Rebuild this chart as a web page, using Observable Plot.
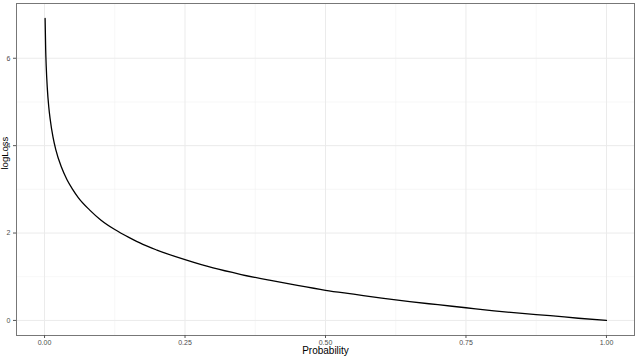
<!DOCTYPE html>
<html>
<head>
<meta charset="utf-8">
<script src="https://cdn.jsdelivr.net/npm/d3@7"></script>
<script src="https://cdn.jsdelivr.net/npm/@observablehq/plot@0.6"></script>
<style>
html, body { margin: 0; padding: 0; background: #fff; }
</style>
</head>
<body>
<div id="chart"></div>
<script>
// Values
const probability = [0.001, 0.002, 0.003, 0.005, 0.0075, 0.01, 0.015, 0.02, 0.03, 0.04, 0.05, 0.06, 0.08, 0.1, 0.125, 0.15, 0.175, 0.2, 0.25, 0.3, 0.35, 0.4, 0.45, 0.5, 0.55, 0.6, 0.65, 0.7, 0.75, 0.8, 0.85, 0.9, 0.95, 1.0];
const logLoss = [6.91, 6.21, 5.81, 5.30, 4.89, 4.61, 4.20, 3.91, 3.51, 3.22, 3.00, 2.81, 2.53, 2.30, 2.08, 1.90, 1.74, 1.61, 1.39, 1.20, 1.05, 0.92, 0.80, 0.69, 0.60, 0.51, 0.43, 0.36, 0.29, 0.22, 0.16, 0.11, 0.05, 0.00];
const xTicks = [0, 0.25, 0.5, 0.75, 1];
const xMinor = [0.125, 0.375, 0.625, 0.875];
const yTicks = [0, 2, 4, 6];
const yMinor = [1, 3, 5];
const xTitle = "Probability";
const yTitle = "logLoss";

const data = probability.map((p, i) => ({p, loss: logLoss[i]}));

const chart = Plot.plot({
  width: 638,
  height: 357,
  marginLeft: 16,
  marginRight: 4,
  marginTop: 3,
  marginBottom: 22,
  style: {fontFamily: "'Liberation Sans', Arial, sans-serif", background: "#fff"},
  x: {domain: [-0.0499, 1.0499]},
  y: {domain: [-0.345, 7.253]},
  marks: [
    Plot.gridX(xMinor, {stroke: "#f2f2f2", strokeOpacity: 1, strokeWidth: 0.6}),
    Plot.gridY(yMinor, {stroke: "#f2f2f2", strokeOpacity: 1, strokeWidth: 0.6}),
    Plot.gridX(xTicks, {stroke: "#ebebeb", strokeOpacity: 1, strokeWidth: 1}),
    Plot.gridY(yTicks, {stroke: "#ebebeb", strokeOpacity: 1, strokeWidth: 1}),
    Plot.line(data, {x: "p", y: "loss", stroke: "#000", strokeWidth: 1.3, curve: "monotone-x"}),
    Plot.frame({stroke: "#777", strokeWidth: 1}),
    Plot.axisX(xTicks, {tickFormat: d3.format(".2f"), tickSize: 3, tickPadding: 1.5, fontSize: 7, color: "#4d4d4d", stroke: "#555", label: null}),
    Plot.axisY(yTicks, {tickSize: 3, tickPadding: 3, fontSize: 7, color: "#4d4d4d", stroke: "#555", label: null}),
    Plot.text([xTitle], {frameAnchor: "bottom", dy: 18, text: d => d, fontSize: 10, fill: "#000"}),
    Plot.text([yTitle], {frameAnchor: "left", dx: -12, rotate: -90, text: d => d, fontSize: 9.5, fill: "#000"})
  ]
});
document.getElementById("chart").appendChild(chart);
</script>
</body>
</html>
